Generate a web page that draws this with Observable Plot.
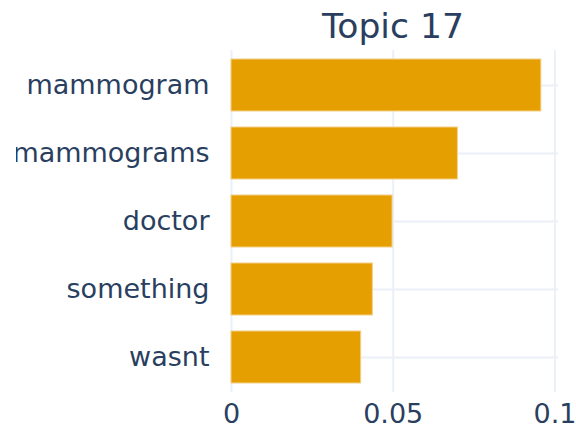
<!DOCTYPE html>
<html>
<head>
<meta charset="utf-8">
<script src="https://cdn.jsdelivr.net/npm/d3@7"></script>
<script src="https://cdn.jsdelivr.net/npm/@observablehq/plot@0.6"></script>
<style>
  html, body { margin: 0; padding: 0; background: white; overflow: hidden; }
  #chart svg { display: block; clip-path: inset(0 0 0 16px); }
</style>
</head>
<body>
<div id="chart"></div>
<script>
const title = "Topic 17";
const words = ["mammogram", "mammograms", "doctor", "something", "wasnt"];
const scores = [0.0958, 0.0700, 0.0498, 0.0437, 0.0401];
const xTicks = [0, 0.05, 0.1];

const data = words.map((w, i) => ({word: w, score: scores[i]}));
const textColor = "#2a3f5f";
const gridColor = "#EBF0F8";

const chart = Plot.plot({
  width: 576,
  height: 426,
  marginTop: 50,
  marginBottom: 34,
  marginLeft: 231,
  marginRight: 18,
  style: {fontFamily: "DejaVu Sans", fontSize: "27px", color: textColor, background: "white", overflow: "visible"},
  x: {domain: [0, 0.1011], label: null},
  y: {domain: words, paddingInner: 0.23, paddingOuter: 0.115, label: null},
  marks: [
    Plot.gridX(xTicks, {stroke: gridColor, strokeOpacity: 1, strokeWidth: 2}),
    Plot.gridY(words, {stroke: gridColor, strokeOpacity: 1, strokeWidth: 2}),
    Plot.barX(data, {x: "score", y: "word", fill: "#E69F00", stroke: "#F4D08A", strokeWidth: 1}),
    Plot.axisX(xTicks, {tickSize: 0, tickPadding: 11, tickFormat: d => String(d), label: null, fontSize: 27, fill: textColor}),
    Plot.axisY(words, {tickSize: 0, tickPadding: 22, label: null, fontSize: 27, fill: textColor}),
    Plot.text([title], {frameAnchor: "top", lineAnchor: "bottom", dy: -12.5, dx: -2, fontSize: 34.6, fill: textColor})
  ]
});
document.getElementById("chart").appendChild(chart);
</script>
</body>
</html>
